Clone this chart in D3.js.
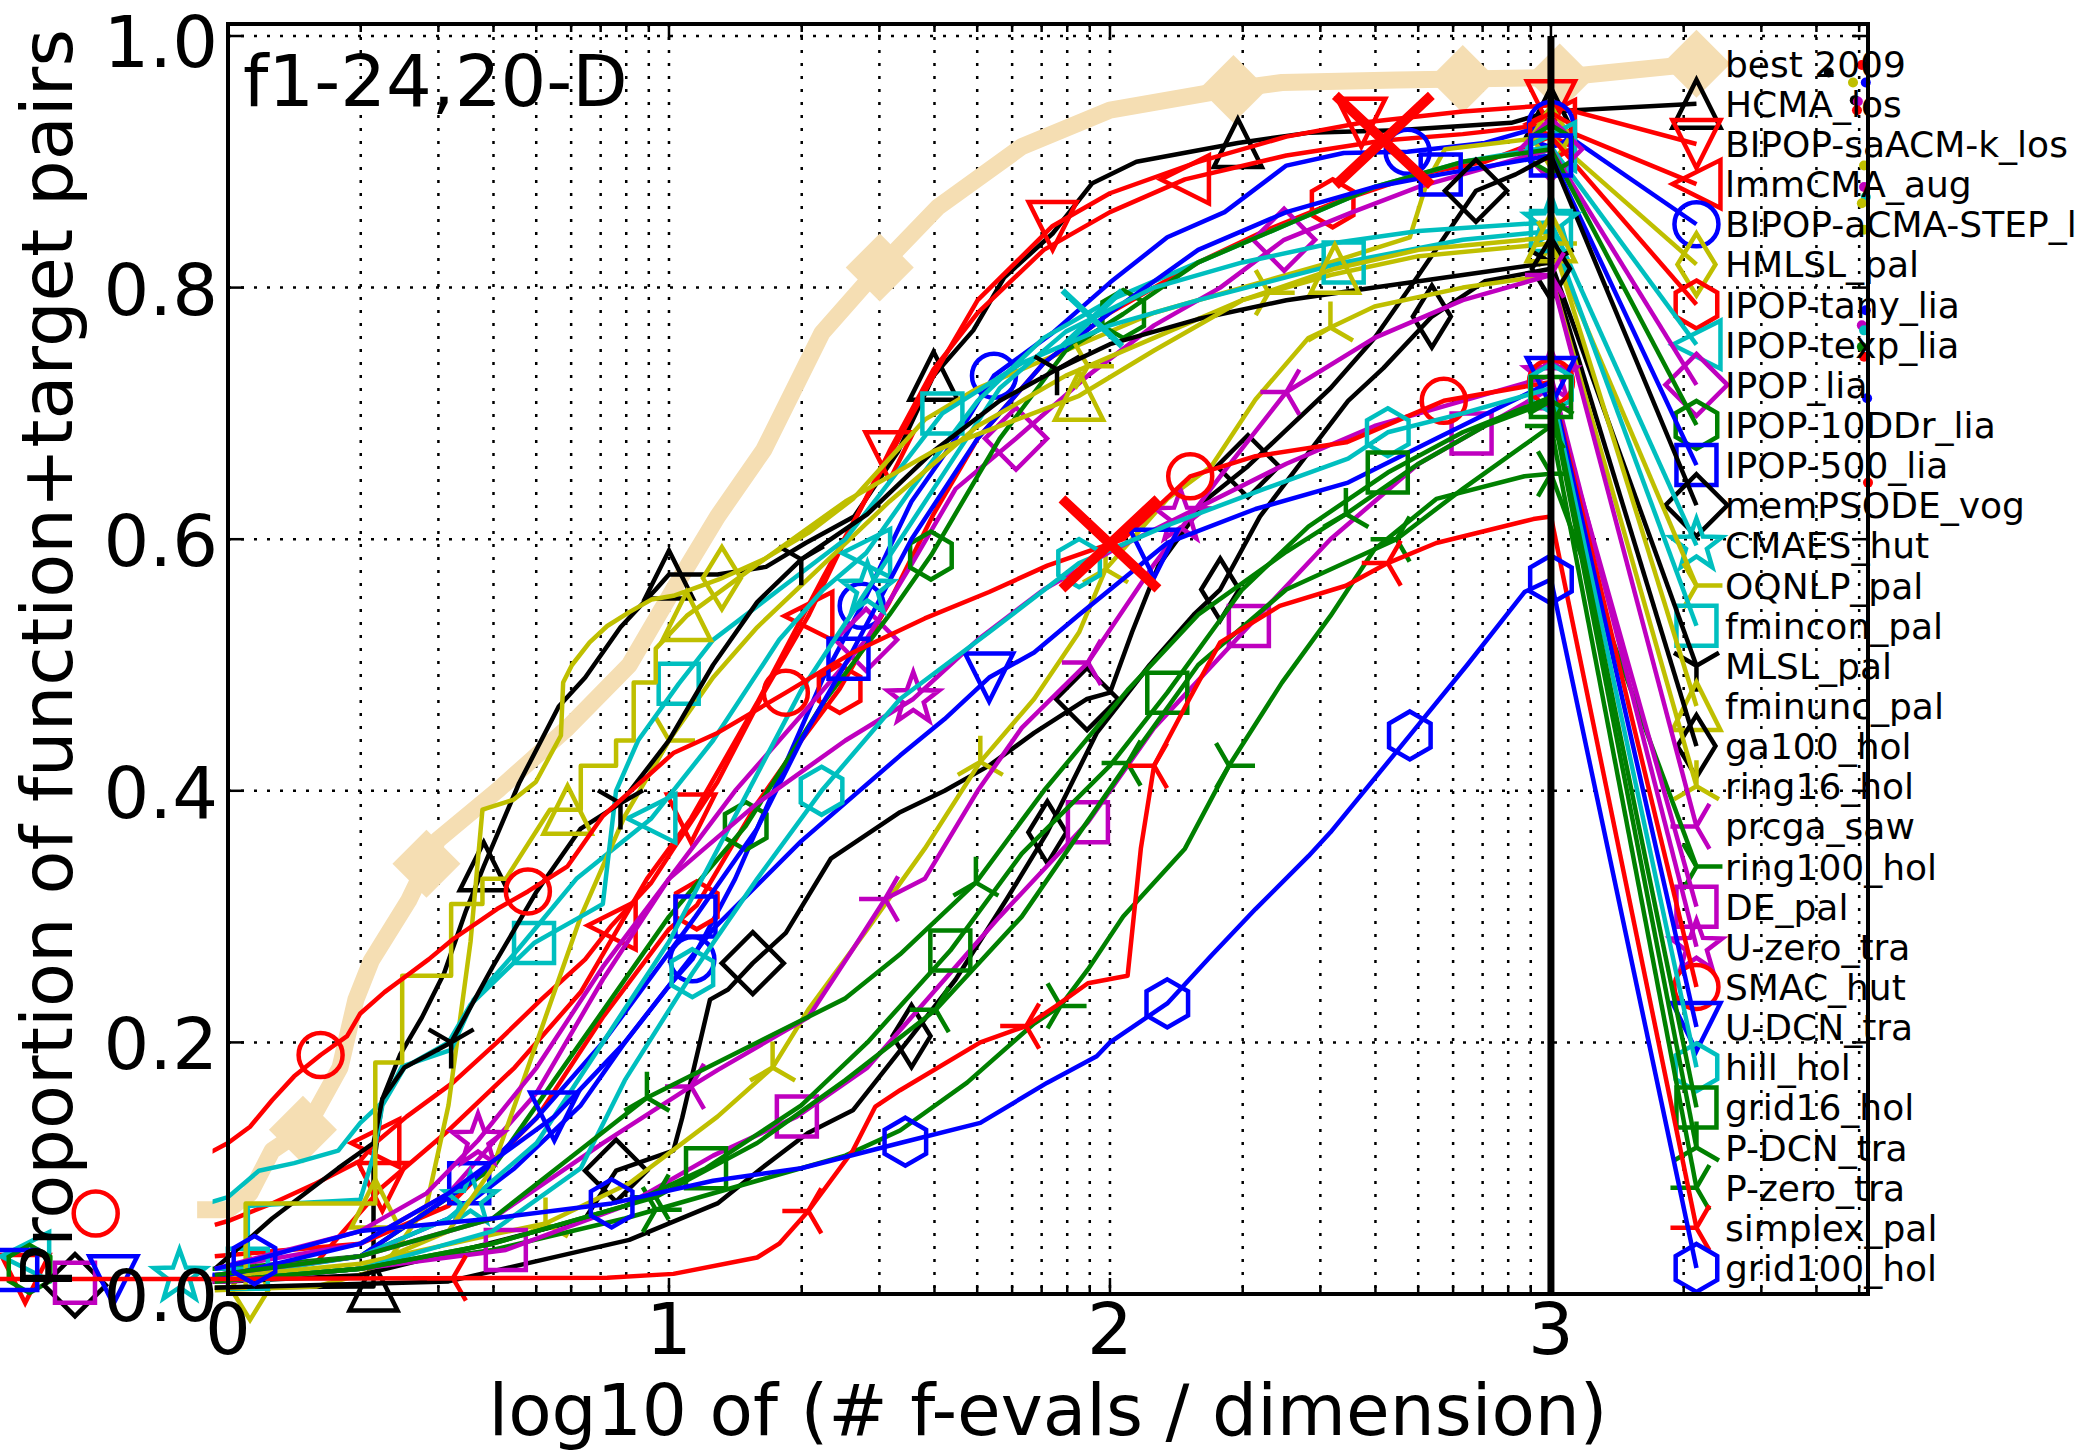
<!DOCTYPE html>
<html><head><meta charset="utf-8">
<script src="https://cdn.jsdelivr.net/npm/d3@7"></script>
<style>html,body{margin:0;padding:0;background:#fff;} svg{display:block;font-family:"DejaVu Sans",sans-serif;}</style>
</head><body><svg id="c" width="2077" height="1453"></svg>
<script>
// ---------------- DATA ----------------
const seriesNames = ["best 2009","HCMA_los","BIPOP-saACM-k_los","lmmCMA_aug","BIPOP-aCMA-STEP_los","HMLSL_pal","IPOP-tany_lia","IPOP-texp_lia","IPOP_lia","IPOP-10DDr_lia","IPOP-500_lia","memPSODE_vog","CMAES_hut","OQNLP_pal","fmincon_pal","MLSL_pal","fminunc_pal","ga100_hol","ring16_hol","prcga_saw","ring100_hol","DE_pal","U-zero_tra","SMAC_hut","U-DCN_tra","hill_hol","grid16_hol","P-DCN_tra","P-zero_tra","simplex_pal","grid100_hol"];

const s_best2009 = [[-0.07,0.067],[0,0.067],[0.05,0.08],[0.1,0.114],[0.18,0.133],[0.254,0.18],[0.29,0.234],[0.325,0.265],[0.41,0.313],[0.476,0.361],[0.61,0.40],[0.77,0.45],[0.91,0.50],[1.01,0.56],[1.11,0.618],[1.215,0.671],[1.347,0.764],[1.478,0.816],[1.61,0.864],[1.80,0.912],[2.0,0.941],[2.26,0.957],[2.39,0.963],[2.65,0.965],[3.02,0.967]];
const s_HCMA = [[-0.03,0.005],[0.3,0.006],[0.33,0.006],[0.33,0.10],[0.35,0.155],[0.39,0.19],[0.44,0.22],[0.49,0.255],[0.54,0.305],[0.58,0.34],[0.66,0.406],[0.75,0.467],[0.81,0.49],[0.89,0.53],[0.97,0.56],[1.0,0.572],[1.11,0.572],[1.22,0.578],[1.31,0.597],[1.42,0.618],[1.52,0.67],[1.6,0.73],[1.69,0.766],[1.76,0.808],[1.87,0.843],[1.96,0.883],[2.06,0.90],[2.29,0.915],[2.45,0.923],[2.65,0.925],[2.91,0.931],[3.0,0.94]];
const s_BIPOPsaACM = [[-0.03,0.012],[0.2,0.025],[0.35,0.085],[0.5,0.13],[0.65,0.18],[0.8,0.24],[0.95,0.33],[1.05,0.378],[1.2,0.47],[1.35,0.57],[1.5,0.666],[1.6,0.73],[1.7,0.79],[1.87,0.849],[2.0,0.875],[2.2,0.9],[2.4,0.92],[2.57,0.931],[2.8,0.94],[3.0,0.945]];
const s_lmmCMA = [[-0.03,0.055],[0,0.058],[0.1,0.072],[0.2,0.088],[0.3,0.106],[0.334,0.12],[0.405,0.141],[0.51,0.168],[0.61,0.2],[0.71,0.234],[0.81,0.266],[0.87,0.293],[0.96,0.327],[1.01,0.354],[1.11,0.407],[1.215,0.478],[1.316,0.539],[1.4,0.6],[1.5,0.67],[1.6,0.735],[1.7,0.78],[1.85,0.83],[2.0,0.86],[2.17,0.886],[2.4,0.905],[2.62,0.917],[2.8,0.922],[3.0,0.93]];
const s_BIPOPaCMA = [[-0.03,0.015],[0.3,0.03],[0.5,0.06],[0.65,0.1],[0.8,0.15],[0.9,0.2],[1.0,0.245],[1.053,0.266],[1.15,0.33],[1.25,0.41],[1.35,0.49],[1.437,0.547],[1.55,0.63],[1.65,0.68],[1.737,0.73],[1.87,0.764],[2.0,0.804],[2.13,0.84],[2.26,0.86],[2.4,0.897],[2.53,0.907],[2.675,0.908],[2.85,0.915],[3.0,0.93]];
const s_HMLSL = [[-0.03,0.003],[0.2,0.006],[0.35,0.02],[0.45,0.07],[0.5,0.15],[0.55,0.28],[0.577,0.385],[0.648,0.393],[0.698,0.407],[0.755,0.444],[0.76,0.486],[0.78,0.5],[0.82,0.518],[0.86,0.531],[0.91,0.542],[0.96,0.552],[1.01,0.555],[1.113,0.568],[1.215,0.584],[1.316,0.605],[1.417,0.632],[1.518,0.671],[1.58,0.695],[1.7,0.72],[1.9,0.75],[2.1,0.78],[2.3,0.80],[2.5,0.82],[2.68,0.84],[2.72,0.885],[2.76,0.91],[3.0,0.92]];
const s_IPOPtany = [[-0.03,0.03],[0.3,0.04],[0.5,0.07],[0.7,0.14],[0.85,0.22],[1.0,0.29],[1.063,0.309],[1.2,0.39],[1.3,0.44],[1.387,0.481],[1.5,0.55],[1.6,0.62],[1.7,0.68],[1.85,0.74],[2.0,0.78],[2.2,0.82],[2.35,0.845],[2.505,0.867],[2.7,0.89],[2.85,0.9],[3.0,0.92]];
const s_IPOPtexp = [[-0.46,0.03],[0,0.077],[0.07,0.098],[0.15,0.104],[0.25,0.114],[0.3,0.136],[0.355,0.154],[0.395,0.181],[0.506,0.194],[0.557,0.234],[0.658,0.274],[0.79,0.33],[0.96,0.378],[1.1,0.44],[1.25,0.52],[1.35,0.56],[1.447,0.589],[1.55,0.64],[1.7,0.71],[1.85,0.76],[2.0,0.79],[2.2,0.82],[2.4,0.85],[2.6,0.88],[2.8,0.9],[3.0,0.912]];
const s_IPOPlia = [[-0.03,0.02],[0.3,0.04],[0.5,0.08],[0.7,0.16],[0.85,0.25],[1.0,0.33],[1.15,0.4],[1.3,0.46],[1.447,0.52],[1.55,0.58],[1.65,0.64],[1.787,0.68],[1.95,0.73],[2.1,0.77],[2.25,0.8],[2.395,0.838],[2.55,0.86],[2.7,0.88],[2.85,0.895],[3.0,0.91]];
const s_IPOP10DDr = [[-0.45,0.02],[0,0.02],[0.3,0.03],[0.6,0.1],[0.8,0.2],[1.0,0.3],[1.174,0.372],[1.35,0.47],[1.5,0.54],[1.594,0.587],[1.75,0.68],[1.9,0.75],[2.03,0.779],[2.2,0.82],[2.4,0.85],[2.6,0.88],[2.8,0.9],[3.0,0.91]];
const s_IPOP500 = [[-0.478,0.019],[0,0.015],[0.3,0.03],[0.547,0.088],[0.7,0.14],[0.85,0.2],[1.06,0.3],[1.2,0.37],[1.3,0.44],[1.407,0.505],[1.55,0.6],[1.7,0.68],[1.85,0.74],[2.0,0.78],[2.2,0.83],[2.4,0.86],[2.6,0.88],[2.75,0.89],[3.0,0.905]];
const s_memPSODE = [[-0.347,0.007],[0,0.01],[0.3,0.015],[0.59,0.04],[0.81,0.06],[0.88,0.098],[1.01,0.114],[1.03,0.14],[1.093,0.234],[1.134,0.242],[1.19,0.263],[1.265,0.287],[1.367,0.346],[1.524,0.383],[1.625,0.40],[1.726,0.42],[1.828,0.446],[1.948,0.473],[2.0,0.478],[2.05,0.526],[2.11,0.579],[2.22,0.632],[2.313,0.658],[2.394,0.685],[2.5,0.72],[2.6,0.76],[2.7,0.81],[2.83,0.877],[2.92,0.89],[3.0,0.905]];
const s_CMAES = [[-0.11,0.014],[0,0.014],[0.3,0.03],[0.5,0.06],[0.7,0.12],[0.85,0.2],[1.0,0.28],[1.15,0.38],[1.3,0.48],[1.45,0.56],[1.6,0.64],[1.75,0.72],[1.9,0.765],[2.1,0.8],[2.3,0.82],[2.5,0.835],[2.7,0.845],[3.0,0.852]];
const s_OQNLP = [[-0.03,0.01],[0.3,0.02],[0.5,0.05],[0.6,0.1],[0.7,0.2],[0.8,0.3],[0.9,0.38],[1.0,0.44],[1.1,0.49],[1.2,0.53],[1.35,0.58],[1.5,0.63],[1.7,0.69],[1.9,0.73],[2.1,0.76],[2.3,0.79],[2.5,0.81],[2.7,0.825],[3.0,0.835]];
const s_fmincon = [[-0.03,0.02],[0.045,0.02],[0.045,0.07],[0.3,0.075],[0.33,0.11],[0.35,0.15],[0.4,0.18],[0.5,0.2],[0.55,0.23],[0.694,0.279],[0.8,0.3],[0.85,0.31],[0.88,0.4],[0.93,0.44],[1.022,0.485],[1.1,0.52],[1.25,0.56],[1.4,0.6],[1.62,0.7],[1.8,0.74],[2.0,0.77],[2.2,0.79],[2.53,0.82],[2.8,0.838],[3.0,0.845]];
const s_MLSL = [[-0.03,0.02],[0.1,0.06],[0.25,0.1],[0.33,0.12],[0.35,0.155],[0.4,0.18],[0.506,0.2],[0.6,0.26],[0.7,0.32],[0.8,0.37],[0.89,0.39],[1.0,0.44],[1.1,0.5],[1.2,0.55],[1.3,0.584],[1.45,0.62],[1.6,0.67],[1.75,0.71],[1.88,0.735],[2.0,0.755],[2.2,0.775],[2.4,0.79],[2.6,0.80],[2.8,0.81],[3.0,0.82]];
const s_fminunc = [[-0.03,0.005],[0.04,0.005],[0.04,0.072],[0.334,0.072],[0.334,0.184],[0.395,0.184],[0.395,0.253],[0.506,0.253],[0.506,0.31],[0.577,0.31],[0.577,0.33],[0.63,0.33],[0.73,0.385],[0.8,0.385],[0.8,0.42],[0.88,0.42],[0.88,0.44],[0.92,0.44],[0.92,0.486],[0.97,0.486],[0.97,0.513],[1.04,0.539],[1.2,0.58],[1.4,0.63],[1.6,0.67],[1.93,0.714],[2.1,0.75],[2.3,0.79],[2.51,0.815],[2.7,0.83],[3.0,0.84]];
const s_ga100 = [[-0.03,0.005],[0.5,0.01],[0.91,0.043],[1.11,0.072],[1.21,0.10],[1.315,0.128],[1.417,0.146],[1.55,0.205],[1.65,0.25],[1.766,0.314],[1.858,0.367],[1.97,0.446],[2.09,0.5],[2.19,0.54],[2.25,0.56],[2.34,0.618],[2.44,0.664],[2.54,0.71],[2.62,0.736],[2.73,0.777],[2.85,0.805],[3.0,0.815]];
const s_ring16 = [[-0.03,0.013],[0.3,0.024],[0.61,0.048],[0.72,0.056],[0.91,0.088],[1.11,0.141],[1.235,0.18],[1.316,0.226],[1.45,0.29],[1.58,0.354],[1.706,0.423],[1.828,0.473],[1.93,0.526],[1.99,0.576],[2.13,0.632],[2.23,0.658],[2.33,0.711],[2.45,0.76],[2.6,0.785],[2.8,0.8],[3.0,0.81]];
const s_prcga = [[-0.03,0.015],[0.3,0.03],[0.6,0.06],[0.85,0.12],[1.05,0.165],[1.11,0.178],[1.316,0.22],[1.417,0.274],[1.49,0.314],[1.58,0.33],[1.7,0.4],[1.8,0.45],[1.95,0.502],[2.1,0.58],[2.25,0.65],[2.4,0.717],[2.6,0.76],[2.8,0.79],[3.0,0.81]];
const s_ring100 = [[-0.03,0.01],[0.3,0.02],[0.6,0.035],[0.9,0.06],[1.2,0.09],[1.4,0.11],[1.524,0.13],[1.676,0.168],[1.828,0.215],[1.888,0.229],[1.95,0.258],[2.03,0.3],[2.17,0.354],[2.27,0.42],[2.39,0.486],[2.5,0.539],[2.6,0.592],[2.74,0.632],[2.94,0.65],[3.0,0.652]];
const s_DE = [[-0.347,0.009],[0,0.01],[0.3,0.02],[0.63,0.035],[0.9,0.07],[1.1,0.11],[1.29,0.141],[1.45,0.18],[1.6,0.24],[1.75,0.3],[1.95,0.375],[2.1,0.45],[2.315,0.531],[2.5,0.6],[2.7,0.66],[2.82,0.684],[3.0,0.72]];
const s_Uzero = [[-0.03,0.02],[0.3,0.05],[0.45,0.08],[0.567,0.122],[0.7,0.18],[0.85,0.26],[1.0,0.33],[1.2,0.39],[1.4,0.44],[1.554,0.473],[1.7,0.52],[1.85,0.56],[2.0,0.59],[2.16,0.618],[2.4,0.66],[2.6,0.69],[2.8,0.71],[3.0,0.73]];
const s_SMAC = [[-0.30,0.064],[0,0.12],[0.05,0.133],[0.1,0.154],[0.15,0.173],[0.21,0.19],[0.27,0.205],[0.3,0.223],[0.355,0.24],[0.405,0.253],[0.455,0.266],[0.51,0.282],[0.61,0.306],[0.68,0.32],[0.77,0.34],[0.85,0.38],[1.01,0.43],[1.11,0.446],[1.265,0.478],[1.417,0.51],[1.58,0.537],[1.726,0.558],[1.858,0.579],[2.03,0.60],[2.182,0.65],[2.33,0.666],[2.536,0.677],[2.757,0.71],[3.0,0.725]];
const s_UDCN = [[-0.26,0.011],[0,0.015],[0.3,0.04],[0.5,0.08],[0.74,0.141],[0.9,0.2],[1.1,0.29],[1.3,0.36],[1.524,0.428],[1.625,0.457],[1.726,0.49],[1.828,0.51],[1.93,0.54],[2.13,0.597],[2.33,0.624],[2.54,0.645],[2.74,0.68],[3.0,0.725]];
const s_hill = [[-0.03,0.01],[0.3,0.02],[0.6,0.05],[0.8,0.1],[0.9,0.17],[1.053,0.255],[1.2,0.33],[1.346,0.4],[1.524,0.473],[1.726,0.526],[1.93,0.581],[2.13,0.611],[2.35,0.64],[2.54,0.664],[2.63,0.685],[2.8,0.7],[3.0,0.72]];
const s_grid16 = [[-0.03,0.01],[0.3,0.02],[0.6,0.04],[0.9,0.07],[1.084,0.1],[1.3,0.15],[1.45,0.2],[1.638,0.273],[1.8,0.35],[2.0,0.42],[2.13,0.478],[2.3,0.56],[2.45,0.61],[2.63,0.653],[2.8,0.685],[3.0,0.713]];
const s_PDCN = [[-0.03,0.015],[0.3,0.03],[0.6,0.06],[0.95,0.156],[1.2,0.2],[1.4,0.235],[1.524,0.27],[1.696,0.327],[1.85,0.4],[2.04,0.48],[2.2,0.54],[2.4,0.59],[2.535,0.62],[2.7,0.66],[2.85,0.69],[3.0,0.71]];
const s_Pzero = [[-0.03,0.01],[0.3,0.02],[0.6,0.04],[0.97,0.077],[1.2,0.12],[1.4,0.17],[1.605,0.226],[1.8,0.3],[2.04,0.422],[2.2,0.5],[2.4,0.56],[2.65,0.6],[2.8,0.64],[3.0,0.69]];
const s_simplex = [[-0.6,0.012],[0,0.012],[0.86,0.013],[1.01,0.016],[1.2,0.029],[1.25,0.04],[1.316,0.066],[1.417,0.114],[1.468,0.149],[1.524,0.162],[1.706,0.2],[1.81,0.213],[1.878,0.229],[1.95,0.247],[2.04,0.253],[2.07,0.354],[2.1,0.42],[2.18,0.473],[2.25,0.518],[2.385,0.547],[2.535,0.563],[2.63,0.581],[2.74,0.597],[2.96,0.616],[3.0,0.618]];
const s_grid100 = [[-0.03,0.02],[0.06,0.027],[0.3,0.05],[0.6,0.06],[0.87,0.072],[1.1,0.09],[1.3,0.1],[1.524,0.12],[1.706,0.136],[1.858,0.168],[1.97,0.189],[2.0,0.2],[2.13,0.231],[2.23,0.269],[2.33,0.306],[2.45,0.348],[2.5,0.367],[2.68,0.444],[2.81,0.5],[2.94,0.558],[3.0,0.568]];

// x positions (log10 evals/dim) where each series shows its markers
const markerX = [
 [0.17,0.45,1.478,2.28,2.8,3.02],
 [0.33,0.58,1.0,1.6,2.29,3.0],
 [-0.46,0.35,1.05,1.5,1.87,2.57,3.0],
 [0.334,0.87,1.316,2.17,3.0],
 [1.053,1.437,1.737,2.675,3.0],
 [0.05,1.12,3.0],
 [1.063,1.387,2.505,3.0],
 [-0.46,0.96,1.447,3.0],
 [1.447,1.787,2.395,3.0],
 [-0.45,1.174,1.594,2.03,3.0],
 [-0.478,0.547,1.06,1.407,2.75,3.0],
 [-0.347,0.88,1.19,1.948,2.313,2.83],
 [-0.11,0.55,1.45,3.0],
 [1.0,1.95,2.36,3.0],
 [0.045,0.694,1.022,1.62,2.53,3.0],
 [0.506,0.89,1.3,1.88,3.0],
 [0.334,0.77,1.04,1.93,2.51,3.0],
 [1.55,1.858,2.25,2.73,3.0],
 [0.72,1.235,1.706,1.99,2.5],
 [1.05,1.49,1.95,2.4,3.0],
 [0.97,1.888,2.27,3.0],
 [-0.347,0.63,1.29,1.95,2.315,2.82,3.0],
 [0.567,1.554,2.16,3.0],
 [-0.30,0.21,0.68,1.265,2.182,2.757,3.0],
 [-0.26,0.74,1.726,2.1,3.0],
 [1.053,1.346,1.93,2.63,3.0],
 [1.084,1.638,2.13,2.63,3.0],
 [0.95,1.696,2.535,3.0],
 [0.97,1.605,2.04,2.65,3.0],
 [0.51,1.316,1.81,2.1,2.63],
 [0.06,0.87,1.536,2.13,2.68,3.0]
];

// median max-evals crosses
const maxEvalSeries = [3, 23, 12];
const maxEvalX = [2.62, 2.0, 1.96];

// small dots at the right edge
const endDotSeries = [2,1,5,4,11,8,3,16,19,12,13,18,24,22,25,26,23,30,29];
const endDotX = [3.705,3.63,3.685,3.714,3.689,3.696,3.694,3.71,3.71,3.714,3.705,3.71,3.714,3.705,3.71,3.705,3.71,3.717,3.719];
const endDotY = [0.977,0.971,0.963,0.963,0.949,0.948,0.941,0.897,0.88,0.872,0.867,0.846,0.782,0.77,0.766,0.753,0.745,0.712,0.645];

const xTickValues = [0,1,2,3];
const xTickLabels = ["0","1","2","3"];
const yTickValues = [0,0.2,0.4,0.6,0.8,1.0];
const yTickLabels = ["0.0","0.2","0.4","0.6","0.8","1.0"];
const budgetX = 3;

// ---------------- STYLES ----------------
const K='#000000',R='#ff0000',B='#0000ff',G='#008000',C='#00bfbf',Mg='#bf00bf',Y='#bfbf00',WHEAT='#f5deb3';
const seriesColors = [WHEAT,K,R,R,B,Y,R,C,Mg,G,B,K,C,Y,C,K,Y,K,Y,Mg,G,Mg,Mg,R,B,C,G,G,G,R,B];
const seriesMarkers = ['BD','^','v','<','o','d','h','<','D','h','s','D','*','4','s','1','^','d','2','3','4','s','*','o','v','h','s','2','3','3','h'];

const seriesData = [s_best2009,s_HCMA,s_BIPOPsaACM,s_lmmCMA,s_BIPOPaCMA,s_HMLSL,s_IPOPtany,s_IPOPtexp,s_IPOPlia,s_IPOP10DDr,s_IPOP500,s_memPSODE,s_CMAES,s_OQNLP,s_fmincon,s_MLSL,s_fminunc,s_ga100,s_ring16,s_prcga,s_ring100,s_DE,s_Uzero,s_SMAC,s_UDCN,s_hill,s_grid16,s_PDCN,s_Pzero,s_simplex,s_grid100];

// ---------------- LAYOUT ----------------
const W=2077,H=1453;
const L=228,Rt=1868,T=24,Bt=1294;
const x=d3.scaleLinear().domain([0,3.719]).range([L,Rt]);
const y=d3.scaleLinear().domain([0,1]).range([Bt,36]);
const legendX = 3.33;
const legY = d3.scaleLinear().domain([0,30]).range([0.978,0.0207]);

const svg=d3.select('#c');
svg.append('rect').attr('width',W).attr('height',H).attr('fill','#fff');
const defs=svg.append('defs');
defs.append('clipPath').attr('id','lclip').append('rect')
  .attr('x',x(-0.035)).attr('y',0).attr('width',W).attr('height',H);

// grid
const xMinor=[];
for(let n=0;n<4;n++) for(let k=2;k<10;k++){const v=n+Math.log10(k); if(v<3.719) xMinor.push(v);}
const gGrid=svg.append('g').attr('stroke','#000').attr('stroke-width',2.5).attr('stroke-dasharray','3,10');
xTickValues.concat(xMinor).forEach(v=>{
  gGrid.append('line').attr('x1',x(v)).attr('x2',x(v)).attr('y1',T).attr('y2',Bt);
});
yTickValues.filter(v=>v>0).forEach(v=>{
  gGrid.append('line').attr('x1',L).attr('x2',Rt).attr('y1',y(v)).attr('y2',y(v));
});

// helpers
const bis=d3.bisector(d=>d[0]).left;
function yAt(pts,X){
  const i=bis(pts,X);
  if(i<=0) return pts[0][1];
  if(i>=pts.length) return pts[pts.length-1][1];
  const a=pts[i-1],b=pts[i];
  if(b[0]===a[0]) return b[1];
  return a[1]+(b[1]-a[1])*(X-a[0])/(b[0]-a[0]);
}
function mpath(t){
  const h=24;
  switch(t){
    case 'o': {const r=22; return `M${-r},0a${r},${r} 0 1,0 ${2*r},0a${r},${r} 0 1,0 ${-2*r},0Z`;}
    case '^': return `M0,${-h}L${h},${h}L${-h},${h}Z`;
    case 'v': return `M0,${h}L${h},${-h}L${-h},${-h}Z`;
    case '<': return `M${-h},0L${h},${-h}L${h},${h}Z`;
    case 's': return `M-20,-20H20V20H-20Z`;
    case 'D': return `M0,-31L31,0L0,31L-31,0Z`;
    case 'BD': return `M0,-34L34,0L0,34L-34,0Z`;
    case 'd': return `M0,-31L19,0L0,31L-19,0Z`;
    case 'h': {let p=''; for(let k=0;k<6;k++){const a=(-90+60*k)*Math.PI/180; p+=(k?'L':'M')+(24*Math.cos(a)).toFixed(2)+','+(24*Math.sin(a)).toFixed(2);} return p+'Z';}
    case '*': {let p=''; for(let k=0;k<10;k++){const r=k%2?11:27; const a=(-90+36*k)*Math.PI/180; p+=(k?'L':'M')+(r*Math.cos(a)).toFixed(2)+','+(r*Math.sin(a)).toFixed(2);} return p+'Z';}
    case '1': return 'M0,0L0,26M0,0L-22.5,-13M0,0L22.5,-13';
    case '2': return 'M0,0L0,-26M0,0L-22.5,13M0,0L22.5,13';
    case '3': return 'M0,0L-26,0M0,0L13,-22.5M0,0L13,22.5';
    case '4': return 'M0,0L26,0M0,0L-13,-22.5M0,0L-13,22.5';
    case 'x': return 'M-48,-45L48,45M-48,45L48,-45';
  }
}
const line=d3.line().x(d=>x(d[0])).y(d=>y(d[1]));

// series
seriesData.forEach((pts,i)=>{
  const col=seriesColors[i];
  const g=svg.append('g');
  const lx=legendX, ly=legY(i);
  const isBest=i===0;
  const p=g.append('path').attr('d',line(pts)).attr('fill','none').attr('stroke',col)
    .attr('stroke-width',isBest?17:4.5).attr('stroke-linejoin','round');
  if(!isBest && seriesNames[i]!=='simplex_pal') p.attr('clip-path','url(#lclip)');
  const last=pts[pts.length-1];
  g.append('path').attr('d',line([last,[lx,ly]])).attr('fill','none').attr('stroke',col)
    .attr('stroke-width',isBest?17:4.5).attr('stroke-linecap',isBest?'round':'butt');
  const mk=markerX[i].map(X=>[X,yAt(pts,X)]).concat([[lx,ly]]);
  g.selectAll('path.m').data(mk).join('path').attr('class','m')
    .attr('transform',d=>`translate(${x(d[0])},${y(d[1])})`)
    .attr('d',mpath(seriesMarkers[i]))
    .attr('fill',isBest?col:'none').attr('stroke',isBest?'none':col)
    .attr('stroke-width',4.5).attr('stroke-linejoin','miter');
});

// max-evals crosses
maxEvalSeries.forEach((si,k)=>{
  const X=maxEvalX[k], Yv=yAt(seriesData[si],X);
  const sc = seriesColors[si]===C ? 0.62 : 1;
  svg.append('path').attr('transform',`translate(${x(X)},${y(Yv)}) scale(${sc})`).attr('d',mpath('x'))
    .attr('fill','none').attr('stroke',seriesColors[si]).attr('stroke-width',10);
});

// right-edge dots
endDotSeries.forEach((si,k)=>{
  svg.append('circle').attr('cx',x(endDotX[k])).attr('cy',y(endDotY[k])).attr('r',5).attr('fill',seriesColors[si]);
});

// budget line
svg.append('line').attr('x1',x(budgetX)).attr('x2',x(budgetX)).attr('y1',y(1)).attr('y2',Bt)
  .attr('stroke','#000').attr('stroke-width',7);

// spines
svg.append('rect').attr('x',L).attr('y',T).attr('width',Rt-L).attr('height',Bt-T)
  .attr('fill','none').attr('stroke','#000').attr('stroke-width',4);

// ticks
const gT=svg.append('g').attr('stroke','#000').attr('stroke-width',2.5);
xTickValues.forEach(v=>{
  gT.append('line').attr('x1',x(v)).attr('x2',x(v)).attr('y1',Bt).attr('y2',Bt-16);
  gT.append('line').attr('x1',x(v)).attr('x2',x(v)).attr('y1',T).attr('y2',T+16);
});
xMinor.forEach(v=>{
  gT.append('line').attr('x1',x(v)).attr('x2',x(v)).attr('y1',Bt).attr('y2',Bt-8);
  gT.append('line').attr('x1',x(v)).attr('x2',x(v)).attr('y1',T).attr('y2',T+8);
});
yTickValues.forEach(v=>{
  gT.append('line').attr('x1',L).attr('x2',L+16).attr('y1',y(v)).attr('y2',y(v));
  gT.append('line').attr('x1',Rt).attr('x2',Rt-16).attr('y1',y(v)).attr('y2',y(v));
});

// text
const fs=72;
xTickValues.forEach((v,k)=>{
  svg.append('text').attr('x',x(v)).attr('y',1354).attr('text-anchor','middle')
    .attr('font-size',fs).text(xTickLabels[k]);
});
yTickValues.forEach((v,k)=>{
  svg.append('text').attr('x',L-10).attr('y',Math.max(y(v)+27,67)).attr('text-anchor','end')
    .attr('font-size',fs).text(yTickLabels[k]);
});
svg.append('text').attr('x',(L+Rt)/2).attr('y',1435).attr('text-anchor','middle')
  .attr('font-size',71).text('log10 of (# f-evals / dimension)');
svg.append('text').attr('transform',`translate(72,${(T+Bt)/2}) rotate(-90)`).attr('text-anchor','middle')
  .attr('font-size',fs).text('Proportion of function+target pairs');
svg.append('text').attr('x',243).attr('y',106).attr('font-size',fs).text('f1-24,20-D');
seriesNames.forEach((n,i)=>{
  svg.append('text').attr('x',1725).attr('y',y(legY(i))+13).attr('font-size',36).text(n);
});
</script></body></html>
